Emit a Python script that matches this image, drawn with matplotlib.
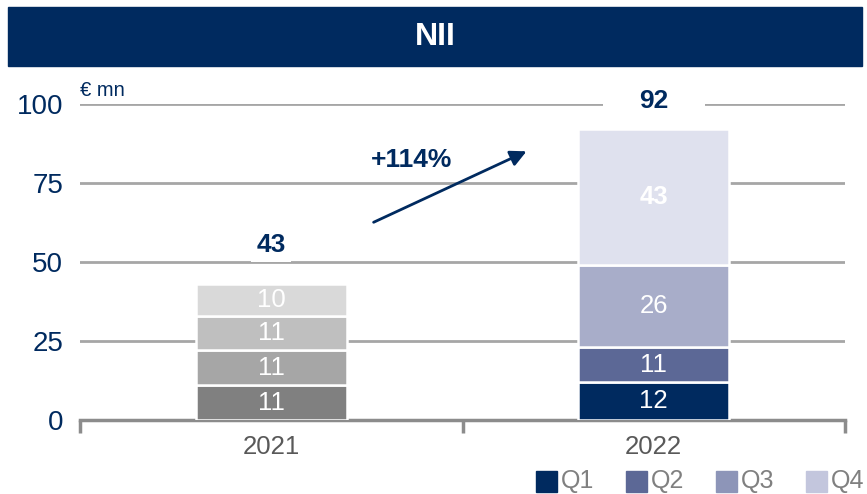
import matplotlib
matplotlib.use("Agg")
import matplotlib.pyplot as plt
from matplotlib.patches import Rectangle, FancyArrowPatch

plt.rcParams['font.family'] = ['Liberation Sans', 'DejaVu Sans']

years = ["2021", "2022"]
quarters = ["Q1", "Q2", "Q3", "Q4"]
values = {
    "2021": [11, 11, 11, 10],
    "2022": [12, 11, 26, 43],
}
totals = [43, 92]
growth_label = "+114%"
yticks = [0, 25, 50, 75, 100]
unit_label = "€ mn"
title = "NII"

navy = "#002a5f"
bar_colors = {
    "2021": ["#808080", "#a6a6a6", "#bfbfbf", "#d9d9d9"],
    "2022": ["#002a5f", "#5c6896", "#a8adc9", "#dfe1ee"],
}
legend_colors = ["#002a5f", "#5c6896", "#8d95b8", "#c3c6dd"]
label_bold = {
    "2021": [False, False, False, False],
    "2022": [False, False, False, True],
}

W, H = 867, 494
fig = plt.figure(figsize=(W / 100, H / 100), dpi=100)

# Title banner
fig.patches.append(Rectangle((8 / W, 1 - 66 / H), 854 / W, 59 / H,
                             transform=fig.transFigure, color=navy, zorder=0))
fig.text(0.5 * (8 + 862) / W, 1 - 37 / H, title, color="white", fontsize=23,
         fontweight="bold", ha="center", va="center")

ax = fig.add_axes([80 / W, (H - 420) / H, 765 / W, 316 / H])
ax.set_xlim(-0.5, 1.5)
ax.set_ylim(0, 100)

width = 0.395
for i, yr in enumerate(years):
    bottom = 0
    for q, v in enumerate(values[yr]):
        ax.bar(i, v, width=width, bottom=bottom, color=bar_colors[yr][q],
               edgecolor="white", linewidth=1.8, zorder=3)
        ax.text(i, bottom + v / 2, str(v), color="white", fontsize=18.5,
                fontweight="bold" if label_bold[yr][q] else "normal",
                ha="center", va="center", zorder=4)
        bottom += v

# totals (white boxes interrupt gridlines, drawn under bars)
ax.text(0, 55.5, str(totals[0]), color=navy, fontsize=19, fontweight="bold",
        ha="center", va="center", zorder=2,
        bbox=dict(facecolor="white", edgecolor="none", pad=4))
ax.text(1, 101, str(totals[1]), color=navy, fontsize=19, fontweight="bold",
        ha="center", va="center", zorder=2,
        bbox=dict(facecolor="white", edgecolor="none", pad=26))

# grid lines
for y in yticks[1:]:
    ax.axhline(y, color="#a6a6a6", linewidth=2, zorder=1)

# arrow
arrow = FancyArrowPatch((0.261, 62.2), (0.674, 85.4), arrowstyle="-|>",
                        mutation_scale=24, color=navy, linewidth=2, zorder=6)
ax.add_patch(arrow)
ax.text(0.366, 82.3, growth_label, color=navy, fontsize=19, fontweight="bold",
        ha="center", va="center", zorder=6)

# axes styling
for s in ["top", "right", "left"]:
    ax.spines[s].set_visible(False)
ax.spines["bottom"].set_color("#8c8c8c")
ax.spines["bottom"].set_linewidth(2.5)
ax.set_yticks(yticks)
ax.set_yticklabels([str(t) for t in yticks])
ax.tick_params(axis="y", length=0, labelsize=20, labelcolor=navy, pad=12)
ax.set_xticks([-0.5, 0.5, 1.5])
ax.set_xticklabels([])
ax.tick_params(axis="x", which="major", length=9, width=2.5, color="#8c8c8c",
               direction="out")
ax.set_xticks([0, 1], minor=True)
ax.set_xticklabels(years, minor=True)
ax.tick_params(axis="x", which="minor", length=0, labelsize=18.5,
               labelcolor="#595959", pad=11)

fig.text(80 / W, 1 - 90 / H, unit_label, color=navy, fontsize=14.5,
         ha="left", va="center")

# legend
x0 = 536
for k, (q, c) in enumerate(zip(quarters, legend_colors)):
    xs = x0 + k * 90
    fig.patches.append(Rectangle((xs / W, 1 - 492 / H), 21 / W, 21 / H,
                                 transform=fig.transFigure, color=c))
    fig.text((xs + 25) / W, 1 - 481 / H, q, color="#808080", fontsize=18,
             ha="left", va="center")

fig.savefig("out.png", dpi=100)
